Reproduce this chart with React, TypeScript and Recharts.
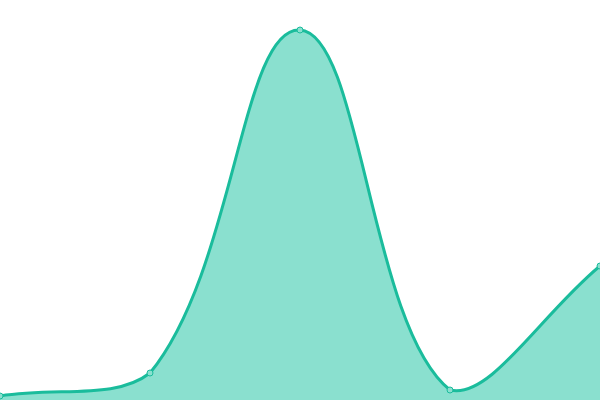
import { AreaChart, Area, XAxis, YAxis } from "recharts";

/** Category labels along the (hidden) x axis. */
const CATEGORIES = ["A", "B", "C", "D", "E"];

/** Series values. */
const VALUES = [4, 27, 370, 10, 134];

/** Y domain of the hidden value axis. */
const Y_DOMAIN: [number, number] = [0, 400];

const WIDTH = 600;
const HEIGHT = 400;
const TENSION = 0.4;

const STROKE = "#1abc9c";
const FILL = "#8ae0cf";

const chartData = CATEGORIES.map((name, i) => ({ name, value: VALUES[i] }));

type Pt = { x: number; y: number };

/** Clamp a control point inside the plot area. */
function cap(p: Pt): Pt {
  return {
    x: Math.min(Math.max(p.x, 0), WIDTH),
    y: Math.min(Math.max(p.y, 0), HEIGHT),
  };
}

/** Control points for one point, given its neighbours (tension spline). */
function controlPoints(p0: Pt, p1: Pt, p2: Pt) {
  const d01 = Math.hypot(p1.x - p0.x, p1.y - p0.y);
  const d12 = Math.hypot(p2.x - p1.x, p2.y - p1.y);
  let s01 = d01 / (d01 + d12);
  let s12 = d12 / (d01 + d12);
  if (isNaN(s01)) s01 = 0;
  if (isNaN(s12)) s12 = 0;
  const fa = TENSION * s01;
  const fb = TENSION * s12;
  return {
    prev: cap({ x: p1.x - fa * (p2.x - p0.x), y: p1.y - fa * (p2.y - p0.y) }),
    next: cap({ x: p1.x + fb * (p2.x - p0.x), y: p1.y + fb * (p2.y - p0.y) }),
  };
}

/** d3-style curve factory drawing a capped tension spline. */
function tensionCurve(context: any) {
  let pts: Pt[] = [];
  let line = NaN;
  return {
    areaStart() {
      line = 0;
    },
    areaEnd() {
      line = NaN;
    },
    lineStart() {
      pts = [];
    },
    point(x: number, y: number) {
      pts.push({ x: +x, y: +y });
    },
    lineEnd() {
      const n = pts.length;
      if (n > 0) {
        if (line) context.lineTo(pts[0].x, pts[0].y);
        else context.moveTo(pts[0].x, pts[0].y);
        const cps = pts.map((p, i) =>
          controlPoints(pts[Math.max(i - 1, 0)], p, pts[Math.min(i + 1, n - 1)])
        );
        for (let i = 1; i < n; i++) {
          const a = cps[i - 1].next;
          const b = cps[i].prev;
          context.bezierCurveTo(a.x, a.y, b.x, b.y, pts[i].x, pts[i].y);
        }
      }
      if (line || (line !== 0 && n === 1)) context.closePath();
      line = 1 - line;
    },
  };
}

export default function App() {
  return (
    <div style={{ position: "fixed", left: 0, top: 0, width: WIDTH, height: HEIGHT, background: "#fff" }}>
      <AreaChart
        width={WIDTH}
        height={HEIGHT}
        data={chartData}
        margin={{ top: 0, right: 0, bottom: 0, left: 0 }}
      >
        <XAxis dataKey="name" hide />
        <YAxis domain={Y_DOMAIN} hide />
        <Area
          type={tensionCurve as any}
          dataKey="value"
          stroke={STROKE}
          strokeWidth={3}
          fill={FILL}
          fillOpacity={1}
          dot={{ r: 3, fill: FILL, stroke: STROKE, strokeWidth: 1 }}
          activeDot={false}
          isAnimationActive={false}
        />
      </AreaChart>
    </div>
  );
}
